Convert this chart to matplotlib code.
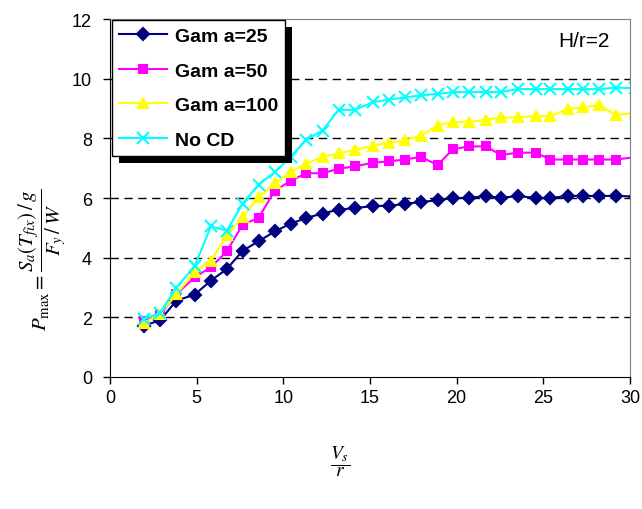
import matplotlib
matplotlib.use('Agg')
import matplotlib.pyplot as plt
from matplotlib.patches import Rectangle

plt.rcParams['font.family'] = ['Liberation Sans', 'DejaVu Sans']
plt.rcParams['mathtext.fontset'] = 'stix'

# V_s / r values
x = [1.95, 2.89, 3.83, 4.88, 5.82, 6.74, 7.65, 8.57, 9.51, 10.42, 11.32, 12.26,
     13.19, 14.11, 15.15, 16.1, 17.02, 17.94, 18.9, 19.77, 20.69, 21.69, 22.56,
     23.52, 24.56, 25.41, 26.41, 27.31, 28.24, 29.18, 30.3]

gama25 = [1.72, 1.90, 2.56, 2.76, 3.23, 3.62, 4.23, 4.55, 4.88, 5.14, 5.33, 5.48,
          5.61, 5.66, 5.73, 5.74, 5.80, 5.87, 5.92, 6.00, 6.00, 6.07, 6.00,
          6.07, 6.00, 6.00, 6.07, 6.07, 6.07, 6.07, 6.05]
gama50 = [1.89, 2.08, 2.78, 3.34, 3.68, 4.21, 5.11, 5.33, 6.25, 6.57, 6.83, 6.83,
          6.98, 7.06, 7.18, 7.23, 7.29, 7.38, 7.10, 7.63, 7.73, 7.73, 7.44,
          7.52, 7.52, 7.29, 7.29, 7.29, 7.29, 7.29, 7.37]
gama100 = [1.81, 2.11, 2.78, 3.51, 3.90, 4.75, 5.36, 6.02, 6.50, 6.87, 7.15, 7.38,
           7.50, 7.61, 7.75, 7.86, 7.93, 8.09, 8.43, 8.55, 8.55, 8.62, 8.70,
           8.70, 8.75, 8.75, 8.98, 9.04, 9.12, 8.78, 8.86]
nocd = [1.94, 2.15, 3.00, 3.71, 5.05, 4.91, 5.81, 6.45, 6.87, 7.38, 7.95, 8.26,
        8.96, 8.95, 9.21, 9.30, 9.37, 9.44, 9.49, 9.55, 9.55, 9.55, 9.55,
        9.65, 9.65, 9.65, 9.65, 9.65, 9.65, 9.70, 9.68]

series = [
    ('Gam a=25', gama25, '#000080', 'D', 6),
    ('Gam a=50', gama50, '#FF00FF', 's', 6),
    ('Gam a=100', gama100, '#FFFF00', '^', 7),
    ('No CD', nocd, '#00FFFF', 'x', 8),
]

fig = plt.figure(figsize=(6.42, 5.10), dpi=100)
ax = fig.add_axes([110/642, 1-378/510, 520/642, 358/510])

for label, y, col, mk, ms in series:
    ax.plot(x, y, color=col, marker=mk, markersize=ms, linewidth=1.5,
            markeredgewidth=1.5, label=label, clip_on=True)

ax.set_xlim(0, 30)
ax.set_ylim(0, 12)
ax.set_xticks(range(0, 31, 5))
ax.set_yticks(range(0, 13, 2))
ax.tick_params(labelsize=13, direction='out', length=5, width=1)
ax.tick_params(axis='y', pad=8)
for g in [2, 4, 6, 8, 10]:
    ax.axhline(g, color='black', linestyle=(0, (6, 4)), linewidth=1, zorder=0)

ax.spines['top'].set_color('#808080')
ax.spines['right'].set_color('#808080')

leg = ax.legend(loc='upper left', bbox_to_anchor=(0.004, 0.996), numpoints=1,
                fancybox=False, framealpha=1, edgecolor='black',
                prop={'weight': 'bold', 'size': 14}, handlelength=2.5,
                labelspacing=0.88, borderpad=0.35, handletextpad=0.4,
                borderaxespad=0)
leg.get_frame().set_linewidth(1)

# hard black drop shadow behind the legend box
fig.canvas.draw()
bb = leg.get_window_extent()
ax.add_artist(Rectangle((bb.x0 + 7, bb.y0 - 7), bb.width, bb.height,
                        transform=None, facecolor='black', edgecolor='none',
                        zorder=4.9, clip_on=False))

ax.text(0.912, 0.94, 'H/r=2', transform=ax.transAxes, fontsize=15,
        ha='center', va='center')

fig.text(42/642, 1-260/510,
         r'$P_{\mathrm{max}} = \dfrac{S_a(T_{fix})\,/\,g}{F_y\,/\,W}$',
         rotation=90, ha='center', va='center', fontsize=15)
fig.text(340/642, 1-462/510, r'$\dfrac{V_s}{r}$', ha='center', va='center',
         fontsize=14)

fig.savefig('out.png', dpi=100)
